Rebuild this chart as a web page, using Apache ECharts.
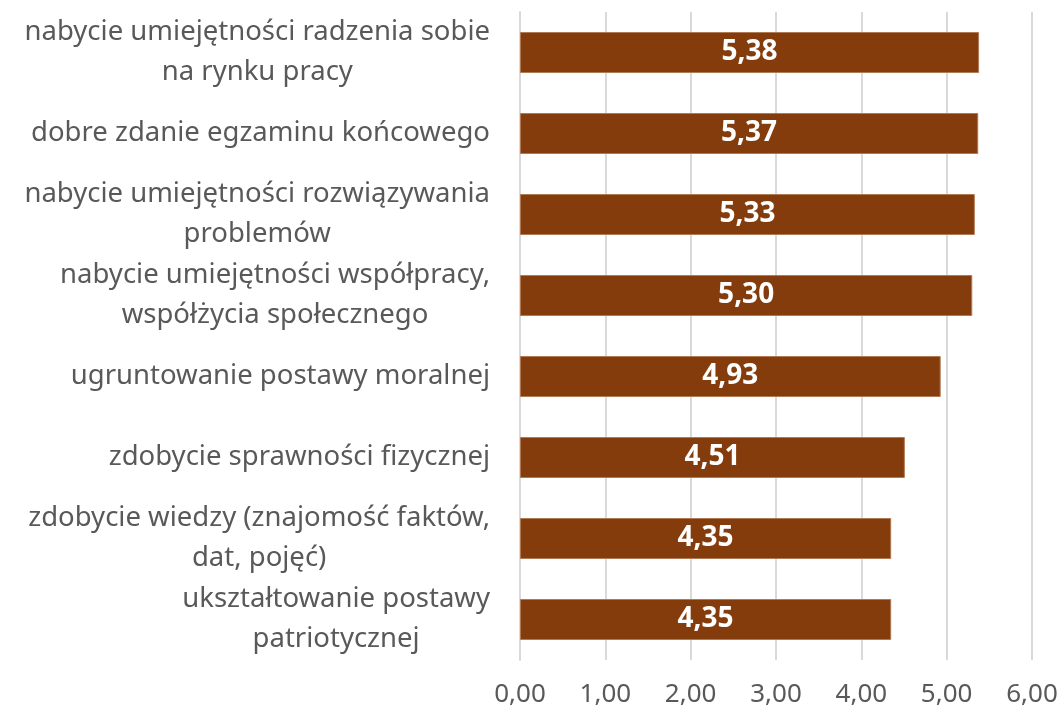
<!DOCTYPE html>
<html>
<head>
<meta charset="utf-8">
<script src="https://cdn.jsdelivr.net/npm/echarts@6/dist/echarts.min.js"></script>
<style>
html, body { margin: 0; padding: 0; background: #fff; }
#chart { width: 1061px; height: 715px; }
</style>
</head>
<body>
<div id="chart"></div>
<script>
// kategorie (od góry do dołu), linie etykiet rozdzielone \n
var categories = [
    'nabycie umiejętności radzenia sobie\nna rynku pracy',
    'dobre zdanie egzaminu końcowego',
    'nabycie umiejętności rozwiązywania\nproblemów',
    'nabycie umiejętności współpracy,\nwspółżycia społecznego',
    'ugruntowanie postawy moralnej',
    'zdobycie sprawności fizycznej',
    'zdobycie wiedzy (znajomość faktów,\ndat, pojęć)',
    'ukształtowanie postawy\npatriotycznej'
];
var values = [5.38, 5.37, 5.33, 5.30, 4.93, 4.51, 4.35, 4.35];
var axisTicks = [0, 1, 2, 3, 4, 5, 6];

function fmt(v) {
    return v.toFixed(2).replace('.', ',');
}

var chart = echarts.init(document.getElementById('chart'));

var option = {
    animation: false,
    textStyle: { fontFamily: 'Noto Sans' },
    grid: { left: 520, right: 29, top: 12, bottom: 55, containLabel: false },
    xAxis: {
        type: 'value',
        min: axisTicks[0],
        max: axisTicks[axisTicks.length - 1],
        interval: 1,
        axisLine: { show: false },
        axisTick: { show: false },
        splitLine: { lineStyle: { color: '#d9d9d9', width: 2 } },
        axisLabel: {
            formatter: fmt,
            color: '#595959',
            fontSize: 26,
            margin: 22
        }
    },
    yAxis: {
        type: 'category',
        inverse: true,
        data: categories,
        axisLine: { lineStyle: { color: '#d9d9d9', width: 2 } },
        axisTick: { show: false },
        axisLabel: {
            align: 'right',
            margin: 30,
            formatter: function (v) {
                return v.split('\n').map(function (s) { return '{c|' + s + '}'; }).join('\n');
            },
            rich: {
                c: { align: 'center', color: '#595959', fontSize: 27.5, lineHeight: 40, fontFamily: 'Noto Sans' }
            }
        }
    },
    series: [{
        type: 'bar',
        data: values,
        barWidth: 41,
        itemStyle: { color: '#843c0c', borderColor: '#b07a55', borderWidth: 1 },
        label: {
            show: true,
            position: 'inside',
            formatter: function (p) { return fmt(p.value); },
            color: '#fff',
            fontWeight: 'bold',
            fontSize: 28
        }
    }]
};

chart.setOption(option);
</script>
</body>
</html>
